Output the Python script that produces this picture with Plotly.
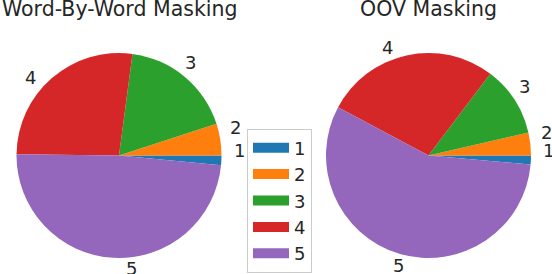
import math
import plotly.graph_objects as go

labels = ["1", "2", "3", "4", "5"]
word_by_word = [1.5, 5.0, 17.9, 26.9, 48.7]
oov = [1.4, 3.6, 11.1, 27.5, 56.4]
titles = ["Word-By-Word Masking", "OOV Masking"]
colors = ["#1f77b4", "#ff7f0e", "#2ca02c", "#d62728", "#9467bd"]

W, H = 552, 274
R = 102.5
centers = [(119, 155.5), (428.5, 155.5)]
font = dict(family="DejaVu Sans", size=18, color="#262626")

def dom(cx, cy, r):
    return dict(x=[(cx - r) / W, (cx + r) / W], y=[(H - cy - r) / H, (H - cy + r) / H])

fig = go.Figure()
for vals, (cx, cy) in zip([word_by_word, oov], centers):
    fig.add_trace(go.Pie(
        labels=labels, values=vals, sort=False, direction="counterclockwise",
        rotation=90, marker=dict(colors=colors, line=dict(width=0)),
        textinfo="none", domain=dom(cx, cy, R), automargin=False,
        hoverinfo="label+percent", showlegend=False,
    ))
    total = sum(vals)
    start = 0.0
    for lab, v in zip(labels, vals):
        mid = math.radians((start + v / 2) / total * 360)
        start += v
        dx, dy = math.cos(mid), math.sin(mid)
        px = cx + 1.1 * R * dx
        py = cy - 1.1 * R * dy
        xa = "left" if dx > 1e-9 else ("right" if dx < -1e-9 else "center")
        fig.add_annotation(text=lab, x=px / W, y=(H - py) / H, xref="paper", yref="paper",
                           xanchor=xa, yanchor="middle", showarrow=False, font=font)

# legend entries (wide colour patches like the original)
for lab, c in zip(labels, colors):
    fig.add_trace(go.Scatter(x=[None], y=[None], mode="lines", name=lab,
                             line=dict(color=c, width=12), hoverinfo="skip"))

for t, (cx, cy) in zip(titles, centers):
    fig.add_annotation(text=t, x=cx / W, y=1.0, xref="paper", yref="paper",
                       xanchor="center", yanchor="top", showarrow=False, yshift=5,
                       font=dict(family="DejaVu Sans", size=20.5, color="#262626"))

fig.update_layout(
    width=W, height=H, margin=dict(l=0, r=0, t=0, b=0),
    paper_bgcolor="white", plot_bgcolor="white",
    xaxis=dict(visible=False), yaxis=dict(visible=False),
    legend=dict(x=247 / W, y=1.5 / H, xanchor="left", yanchor="bottom",
                bordercolor="#cccccc", borderwidth=1, font=font, itemwidth=36,
                bgcolor="white", tracegroupgap=0),
    showlegend=True,
)
fig.write_html("out.html", config={"displayModeBar": False},
               post_script="document.body.style.margin='0';document.body.style.overflow='hidden';")
